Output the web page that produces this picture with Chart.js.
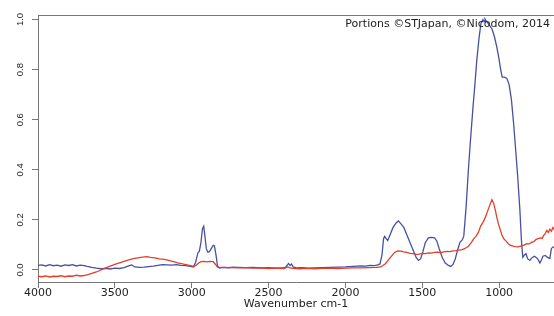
<!DOCTYPE html>
<html>
<head>
<meta charset="utf-8">
<script src="https://cdn.jsdelivr.net/npm/chart.js@4.4.1/dist/chart.umd.min.js"></script>
<style>
  html, body { margin: 0; padding: 0; background: #fff; }
  #wrap { width: 554px; height: 316px; }
</style>
</head>
<body>
<div id="wrap"><canvas id="irChart" width="554" height="316"></canvas></div>
<script>
// spectrum 1 (blue)
const blueWavenumbers = [
  4000, 3975, 3950, 3925, 3900, 3875, 3850, 3825, 3800, 3775, 3750, 3725, 3700, 3680, 3650, 3620,
  3590, 3560, 3530, 3500, 3470, 3440, 3410, 3390, 3370, 3340, 3310, 3280, 3250, 3220, 3190, 3160,
  3130, 3100, 3070, 3040, 3010, 2990, 2975, 2960, 2950, 2940, 2930, 2922, 2915, 2905, 2895, 2885,
  2870, 2860, 2852, 2842, 2832, 2820, 2790, 2760, 2730, 2700, 2650, 2600, 2550, 2500, 2450, 2400,
  2385, 2370, 2360, 2350, 2340, 2320, 2280, 2240, 2200, 2150, 2100, 2050, 2000, 1950, 1900, 1870,
  1840, 1810, 1790, 1775, 1762, 1752, 1745, 1735, 1725, 1710, 1690, 1670, 1655, 1640, 1620, 1600,
  1580, 1560, 1540, 1525, 1510, 1495, 1480, 1460, 1440, 1420, 1405, 1390, 1370, 1350, 1330, 1315,
  1300, 1285, 1270, 1255, 1240, 1230, 1215, 1200, 1188, 1170, 1155, 1145, 1130, 1118, 1105, 1098,
  1092, 1085, 1075, 1060, 1045, 1030, 1015, 1000, 990, 980, 965, 950, 935, 920, 905, 895,
  880, 865, 855, 846, 835, 825, 815, 800, 785, 770, 755, 745, 735, 725, 715, 700,
  685, 670, 660, 650, 643
];
const blueAbsorbance = [
  0.018, 0.020, 0.016, 0.021, 0.017, 0.019, 0.015, 0.020, 0.018, 0.021, 0.016, 0.019, 0.017, 0.014, 0.010, 0.007,
  0.005, 0.006, 0.004, 0.007, 0.006, 0.009, 0.016, 0.020, 0.012, 0.010, 0.011, 0.013, 0.015, 0.018, 0.021, 0.020,
  0.019, 0.021, 0.018, 0.017, 0.014, 0.012, 0.030, 0.068, 0.075, 0.110, 0.165, 0.175, 0.140, 0.085, 0.071, 0.073,
  0.088, 0.098, 0.096, 0.060, 0.015, 0.008, 0.010, 0.009, 0.011, 0.010, 0.009, 0.010, 0.008, 0.009, 0.007, 0.008,
  0.014, 0.026, 0.018, 0.024, 0.012, 0.008, 0.009, 0.007, 0.008, 0.009, 0.010, 0.011, 0.012, 0.014, 0.016, 0.015,
  0.018, 0.017, 0.020, 0.024, 0.060, 0.125, 0.134, 0.125, 0.118, 0.140, 0.170, 0.188, 0.196, 0.185, 0.170, 0.140,
  0.110, 0.080, 0.050, 0.038, 0.045, 0.075, 0.110, 0.128, 0.130, 0.128, 0.115, 0.085, 0.050, 0.028, 0.018, 0.014,
  0.022, 0.045, 0.080, 0.110, 0.120, 0.135, 0.250, 0.400, 0.505, 0.650, 0.760, 0.840, 0.930, 0.985, 1.000, 0.992,
  1.002, 0.995, 0.988, 0.975, 0.960, 0.930, 0.890, 0.840, 0.800, 0.770, 0.770, 0.765, 0.740, 0.680, 0.580, 0.500,
  0.380, 0.240, 0.120, 0.050, 0.060, 0.065, 0.045, 0.038, 0.050, 0.055, 0.048, 0.040, 0.028, 0.040, 0.055, 0.058,
  0.050, 0.046, 0.085, 0.092, 0.090
];

// spectrum 2 (red)
const redWavenumbers = [
  4000, 3975, 3950, 3925, 3900, 3875, 3850, 3825, 3800, 3775, 3750, 3725, 3700, 3680, 3650, 3620,
  3590, 3560, 3530, 3500, 3470, 3440, 3410, 3380, 3350, 3320, 3290, 3270, 3240, 3210, 3180, 3150,
  3120, 3090, 3060, 3030, 3000, 2985, 2970, 2955, 2940, 2920, 2900, 2880, 2860, 2845, 2832, 2800,
  2750, 2700, 2650, 2600, 2550, 2500, 2450, 2400, 2375, 2360, 2340, 2300, 2250, 2200, 2150, 2100,
  2050, 2000, 1950, 1900, 1850, 1800, 1770, 1740, 1720, 1700, 1680, 1660, 1640, 1620, 1600, 1580,
  1560, 1540, 1520, 1500, 1480, 1460, 1440, 1420, 1400, 1380, 1360, 1340, 1320, 1300, 1280, 1260,
  1240, 1225, 1200, 1180, 1165, 1150, 1135, 1120, 1105, 1090, 1075, 1060, 1047, 1035, 1025, 1015,
  1005, 995, 982, 970, 955, 940, 925, 910, 895, 880, 865, 850, 835, 820, 805, 790,
  775, 760, 745, 730, 720, 710, 700, 690, 680, 670, 660, 650, 643
];
const redAbsorbance = [
  -0.025, -0.027, -0.024, -0.028, -0.025, -0.026, -0.023, -0.027, -0.024, -0.025, -0.021, -0.024, -0.022, -0.020, -0.014, -0.008,
  0.000, 0.008, 0.015, 0.022, 0.028, 0.034, 0.040, 0.045, 0.048, 0.051, 0.053, 0.050, 0.048, 0.044, 0.042, 0.038,
  0.033, 0.028, 0.024, 0.020, 0.016, 0.014, 0.020, 0.028, 0.033, 0.034, 0.032, 0.034, 0.033, 0.022, 0.011, 0.010,
  0.009, 0.008, 0.009, 0.007, 0.008, 0.006, 0.007, 0.006, 0.012, 0.008, 0.006, 0.005, 0.006, 0.005, 0.006, 0.007,
  0.006, 0.007, 0.008, 0.008, 0.009, 0.010, 0.012, 0.025, 0.040, 0.055, 0.070, 0.076, 0.075, 0.072, 0.070, 0.066,
  0.065, 0.062, 0.063, 0.066, 0.065, 0.068, 0.067, 0.070, 0.071, 0.069, 0.072, 0.074, 0.073, 0.076, 0.077, 0.079,
  0.081, 0.085, 0.095, 0.110, 0.125, 0.135, 0.150, 0.175, 0.190, 0.210, 0.235, 0.260, 0.281, 0.265, 0.240, 0.210,
  0.185, 0.165, 0.140, 0.125, 0.115, 0.105, 0.098, 0.095, 0.093, 0.092, 0.094, 0.096, 0.100, 0.105, 0.104, 0.110,
  0.113, 0.122, 0.125, 0.128, 0.126, 0.138, 0.145, 0.158, 0.150, 0.163, 0.155, 0.170, 0.162
];

const xTickValues = [4000, 3500, 3000, 2500, 2000, 1500, 1000];
const yTickValues = [0, 0.2, 0.4, 0.6, 0.8, 1.0];
const xAxisTitle = 'Wavenumber cm-1';
const creditText = 'Portions ©STJapan, ©Nicodom, 2014';

function toPoints(xs, ys) {
    return xs.map((x, i) => ({ x: x, y: ys[i] }));
}

// top edge of the plot box + credit line
const boxAndCredit = {
    id: 'boxAndCredit',
    afterDraw(chart) {
        const ctx = chart.ctx;
        const area = chart.chartArea;
        ctx.save();
        ctx.strokeStyle = '#777';
        ctx.lineWidth = 1;
        ctx.beginPath();
        ctx.moveTo(area.left, area.top + 0.5);
        ctx.lineTo(area.right, area.top + 0.5);
        ctx.stroke();
        ctx.fillStyle = '#222';
        ctx.font = '11px "DejaVu Sans"';
        ctx.textAlign = 'right';
        ctx.textBaseline = 'middle';
        ctx.fillText(creditText, 550, 24);
        ctx.restore();
    }
};

new Chart(document.getElementById('irChart'), {
    type: 'line',
    data: {
        datasets: [{
            data: toPoints(redWavenumbers, redAbsorbance),
            borderColor: '#e63d27',
            borderWidth: 1.3,
            pointRadius: 0
        }, {
            data: toPoints(blueWavenumbers, blueAbsorbance),
            borderColor: '#4650a4',
            borderWidth: 1.3,
            pointRadius: 0
        }]
    },
    options: {
        responsive: false,
        animation: false,
        layout: { padding: { top: 15, right: 0, bottom: 0, left: 0 } },
        plugins: {
            legend: { display: false },
            tooltip: { enabled: false }
        },
        scales: {
            x: {
                type: 'linear',
                reverse: true,
                min: 643,
                max: 4000,
                afterBuildTicks: s => { s.ticks = xTickValues.map(v => ({ value: v })); },
                afterFit: s => { s.height = 34; },
                grid: { drawOnChartArea: false, tickLength: 6, color: '#777' },
                border: { color: '#777' },
                ticks: {
                    font: { family: 'DejaVu Sans', size: 11 },
                    color: '#222',
                    padding: -1,
                    maxRotation: 0,
                    callback: v => String(v)
                },
                title: {
                    display: true,
                    text: xAxisTitle,
                    font: { family: 'DejaVu Sans', size: 11 },
                    color: '#222',
                    padding: { top: 0, bottom: 5 }
                }
            },
            y: {
                min: -0.048,
                max: 1.018,
                afterBuildTicks: s => { s.ticks = yTickValues.map(v => ({ value: v })); },
                afterFit: s => { s.width = 38; },
                grid: { drawOnChartArea: false, tickLength: 6, color: '#777' },
                border: { color: '#777' },
                ticks: {
                    font: { family: 'Liberation Sans', size: 9.5 },
                    color: '#222',
                    minRotation: 90,
                    maxRotation: 90,
                    crossAlign: 'center',
                    padding: 5,
                    callback: v => v.toFixed(1)
                }
            }
        }
    },
    plugins: [boxAndCredit]
});
</script>
</body>
</html>
